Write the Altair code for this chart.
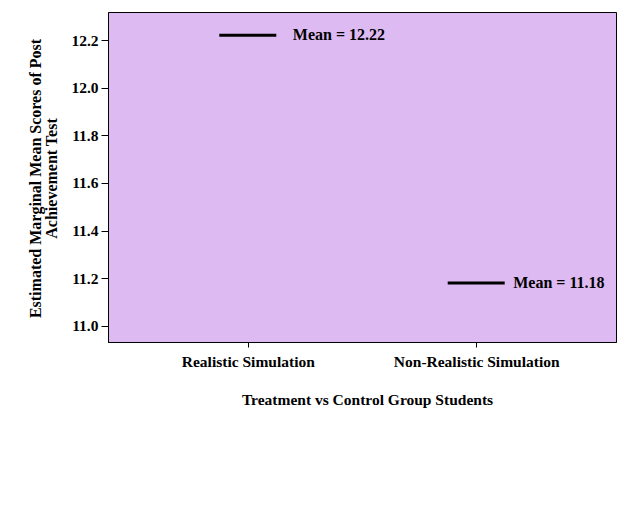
import altair as alt
import pandas as pd

groups = ["Realistic Simulation", "Non-Realistic Simulation"]
means = [12.22, 11.18]
labels = ["Mean = 12.22", "Mean = 11.18"]

df = pd.DataFrame({"group": groups, "mean": means, "label": labels})

FONT = "Liberation Serif"
FS = 15.5

x = alt.X("group:N", sort=groups, scale=alt.Scale(type="point", padding=0.612),
          axis=alt.Axis(title="Treatment vs Control Group Students", labelAngle=0,
                        labelFont=FONT, labelFontSize=FS, labelFontWeight="bold",
                        titleFont=FONT, titleFontSize=FS, titleFontWeight="bold",
                        tickSize=5, labelPadding=7, titlePadding=23, titleX=259))
y = alt.Y("mean:Q", scale=alt.Scale(domain=[10.932, 12.318], nice=False, zero=False),
          axis=alt.Axis(title=["Estimated Marginal Mean Scores of Post", "Achievement Test"],
                        values=[11.0, 11.2, 11.4, 11.6, 11.8, 12.0, 12.2], format=".1f",
                        labelFont=FONT, labelFontSize=FS, labelFontWeight="bold",
                        titleFont=FONT, titleFontSize=16, titleFontWeight="bold",
                        tickSize=7, labelPadding=3, grid=False,
                        titleAngle=-90, titleAlign="center", titleBaseline="bottom",
                        titleLineHeight=16, titleX=-65, titleY=166))

base = alt.Chart(df)
ticks = base.mark_tick(orient="horizontal", size=57, thickness=3, color="black", opacity=1).encode(x=x, y=y)
t1 = base.transform_filter(alt.datum.group == groups[0]).mark_text(
    align="left", baseline="middle", dx=45, font=FONT, fontSize=16, fontWeight="bold", color="black"
).encode(x=alt.X("group:N", sort=groups), y="mean:Q", text="label:N")
t2 = base.transform_filter(alt.datum.group == groups[1]).mark_text(
    align="left", baseline="middle", dx=37, font=FONT, fontSize=16, fontWeight="bold", color="black"
).encode(x=alt.X("group:N", sort=groups), y="mean:Q", text="label:N")

chart = alt.layer(ticks, t1, t2).properties(
    width=508, height=330,
    autosize=alt.AutoSizeParams(type="none"),
    padding={"left": 100, "top": 4, "right": 7, "bottom": 170},
    background="white",
).configure_view(fill="#DEBAF3", stroke="black", strokeWidth=1).configure_axis(
    domainColor="black", tickColor="black", labelColor="black", titleColor="black",
    labelFont=FONT, titleFont=FONT, labelFontSize=FS, titleFontSize=FS,
    labelFontWeight="bold", titleFontWeight="bold", domainWidth=1, tickWidth=1,
)

chart.save("out.html", embed_options={"renderer": "svg", "actions": False})
